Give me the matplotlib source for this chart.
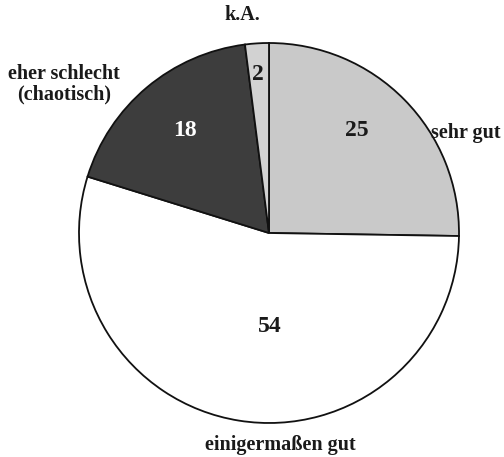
import matplotlib.pyplot as plt

# data
categories = ["sehr gut", "einigermaßen gut", "eher schlecht\n(chaotisch)", "k.A."]
values = [25, 54, 18, 2]
colors = ["#c9c9c9", "#ffffff", "#3d3d3d", "#d2d2d2"]
value_colors = ["#1a1a1a", "#1a1a1a", "#ffffff", "#1a1a1a"]

# label placement (pixel coords, y from top)
value_pos = [(357, 130), (270, 327), (185, 130), (258, 75)]
cat_pos = [(466, 133), (280, 445), (64, 84), (242, 15)]

W, H = 504, 457
fig = plt.figure(figsize=(W / 100, H / 100), dpi=100)
ax = fig.add_axes([0, 0, 1, 1])

ax.pie(values, colors=colors, startangle=90, counterclock=False,
       center=(269, H - 233), radius=190,
       wedgeprops=dict(edgecolor="#111111", linewidth=1.3))
ax.set_xlim(0, W)
ax.set_ylim(0, H)
ax.set_aspect("equal")
ax.axis("off")

font = dict(family="Liberation Serif", weight="bold")
for v, (x, y), c in zip(values, value_pos, value_colors):
    ax.text(x, H - y, str(v), ha="center", va="center", fontsize=17, color=c, **font)
for lab, (x, y) in zip(categories, cat_pos):
    ax.text(x, H - y, lab, ha="center", va="center", fontsize=14.5,
            color="#1a1a1a", linespacing=1.0, **font)

fig.savefig("out.png", dpi=100)
